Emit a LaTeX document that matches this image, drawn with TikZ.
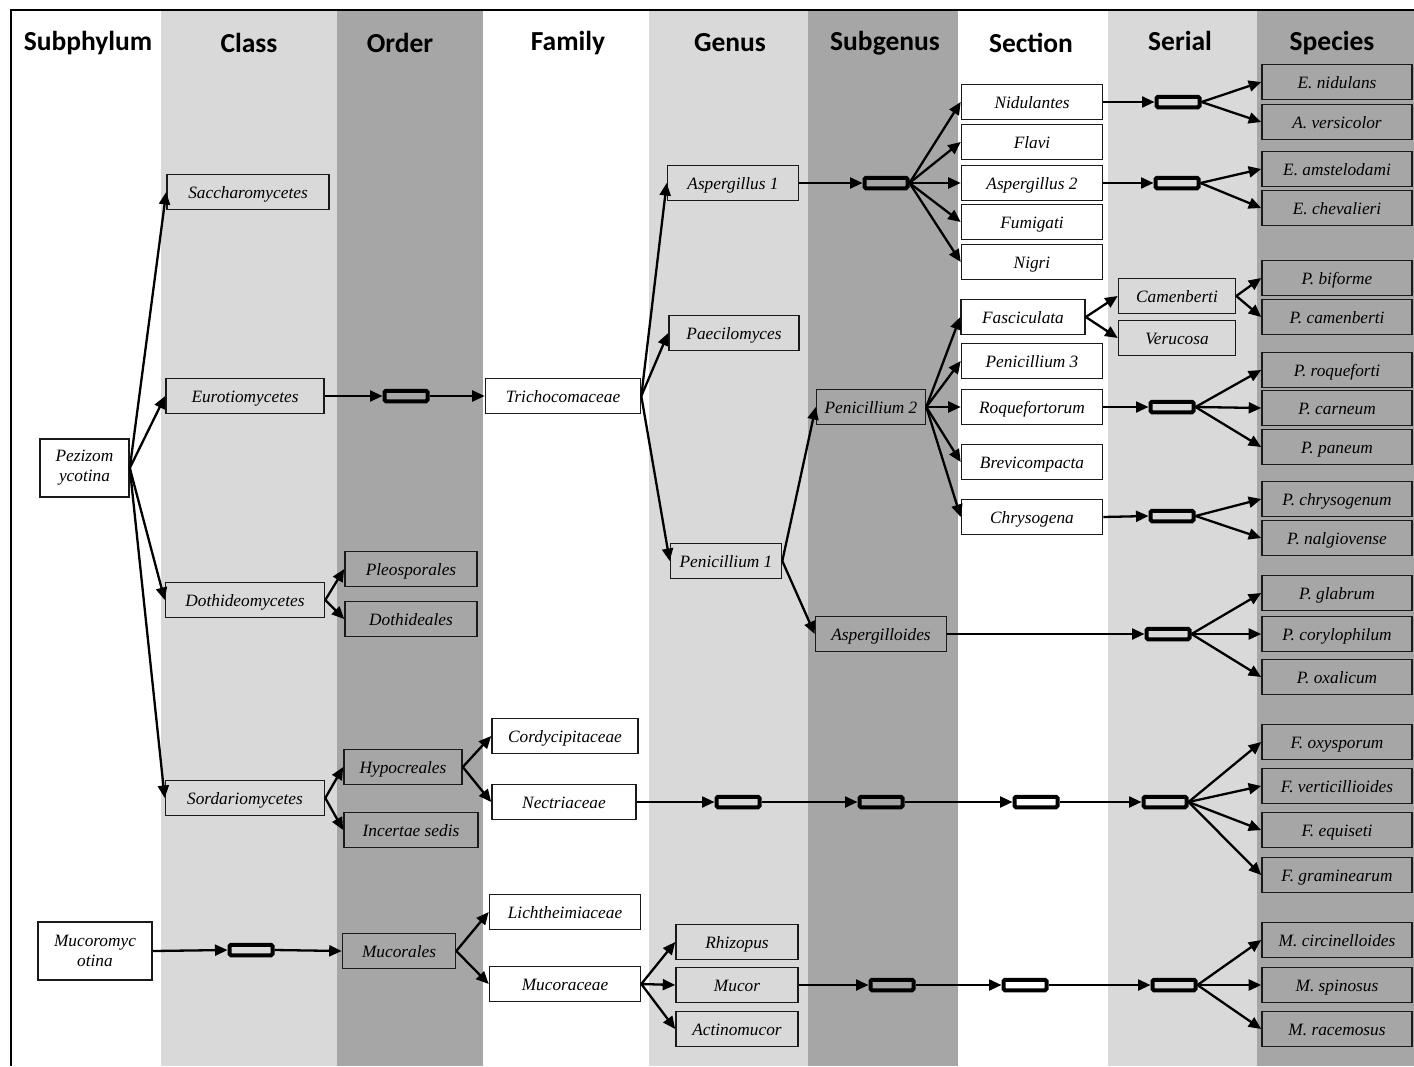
\documentclass[tikz,border=0pt]{standalone}
\usepackage{fontspec}
\setmainfont{Liberation Serif}
\newfontfamily\hdrfont{Carlito}
\usetikzlibrary{arrows.meta}
\definecolor{lgray}{HTML}{D9D9D9}
\definecolor{dgray}{HTML}{A6A6A6}
\definecolor{bline}{HTML}{1A1A1A}
\begin{document}
\begin{tikzpicture}[x=1pt,y=-1pt,
  tbox/.style={draw=bline, line width=1.6pt, inner sep=0pt, font=\fontsize{17.3}{20}\selectfont\itshape, text height=13pt, text depth=1pt, minimum height=35pt},
  tbox2/.style={draw=bline, line width=1.6pt, inner sep=0pt, font=\fontsize{17.3}{20}\selectfont\itshape, align=center, minimum height=58pt},
  spbox/.style={tbox, minimum width=150pt},
  secbox/.style={tbox, minimum width=141pt},
  lbox/.style={draw=black, line width=4pt, rounded corners=1.5pt, minimum width=43pt, minimum height=10.5pt, inner sep=0pt},
  hdr/.style={font=\hdrfont\bfseries\fontsize{27.5}{30}\selectfont},
  arr/.style={line width=2.3pt, -{Triangle[length=12.5pt,width=11pt]}},
]
\useasboundingbox (0,0) rectangle (1414,1066);
% bands
\fill[lgray] (161,11) rectangle (337,1066);
\fill[dgray] (337,11) rectangle (483,1066);
\fill[lgray] (649,11) rectangle (808,1066);
\fill[dgray] (808,11) rectangle (958,1066);
\fill[lgray] (1108,11) rectangle (1257,1066);
\fill[dgray] (1257,11) rectangle (1414,1066);
\draw[line width=2pt] (11,1066) -- (11,10) -- (1414,10);
% headers
\node[hdr] (h1) at (88,43) {Subphylum};
\node[hdr] (h2) at (249,43) {Class};
\node[hdr] (h3) at (400,43) {Order};
\node[hdr] (h4) at (568,43) {Family};
\node[hdr] (h5) at (730,43) {Genus};
\node[hdr] (h6) at (885,43) {Subgenus};
\node[hdr] (h7) at (1031,43) {Section};
\node[hdr] (h8) at (1180,41) {Serial};
\node[hdr] (h9) at (1332,43) {Species};
% subphylum
\node[tbox2, minimum width=89pt] (pez) at (84.5,468) {Pezizom\\ycotina};
\node[tbox2, minimum width=114pt] (muc) at (95,951) {Mucoromyc\\otina};
% class
\node[tbox, minimum width=162pt] (sac) at (248,192) {Saccharomycetes};
\node[tbox, minimum width=158pt] (eur) at (245,396) {Eurotiomycetes};
\node[tbox, minimum width=159pt] (dot) at (245,600) {Dothideomycetes};
\node[tbox, minimum width=159pt] (sor) at (245,798) {Sordariomycetes};
\node[lbox] (Lm1) at (251,950) {};
% order
\node[lbox] (Le1) at (406,396) {};
\node[tbox, minimum width=132pt] (ple) at (411,569) {Pleosporales};
\node[tbox, minimum width=132pt] (dth) at (411,619) {Dothideales};
\node[tbox, minimum width=118pt] (hyp) at (403,767) {Hypocreales};
\node[tbox, minimum width=134pt] (inc) at (411,830) {Incertae sedis};
\node[tbox, minimum width=113pt] (mcr) at (399,951) {Mucorales};
% family
\node[tbox, minimum width=155pt] (tri) at (563,396) {Trichocomaceae};
\node[tbox, minimum width=146pt] (cor) at (565,736) {Cordycipitaceae};
\node[tbox, minimum width=144pt] (nec) at (564,802) {Nectriaceae};
\node[tbox, minimum width=151pt] (lic) at (565,912) {Lichtheimiaceae};
\node[tbox, minimum width=151pt] (mce) at (565,984) {Mucoraceae};
% genus
\node[tbox, minimum width=131pt] (as1) at (733,183) {Aspergillus 1};
\node[tbox, minimum width=130pt] (pae) at (734,333) {Paecilomyces};
\node[tbox, minimum width=111pt] (pe1) at (726,561) {Penicillium 1};
\node[tbox, minimum width=122pt] (rhi) at (737,942) {Rhizopus};
\node[tbox, minimum width=122pt] (mur) at (737,985) {Mucor};
\node[tbox, minimum width=122pt] (act) at (737,1029) {Actinomucor};
\node[lbox] (Ln1) at (738,802) {};
% subgenus
\node[lbox] (La1) at (886,183) {};
\node[tbox, minimum width=109pt] (pe2) at (871,407) {Penicillium 2};
\node[tbox, minimum width=131pt] (asp) at (881,634) {Aspergilloides};
\node[lbox] (Ln2) at (881,802) {};
\node[lbox] (Lu1) at (892,985) {};
% section
\node[secbox] (nid) at (1032,102) {Nidulantes};
\node[secbox] (fla) at (1032,142) {Flavi};
\node[secbox] (as2) at (1032,183) {Aspergillus 2};
\node[secbox] (fum) at (1032,222) {Fumigati};
\node[secbox] (nig) at (1032,262) {Nigri};
\node[tbox, minimum width=124pt] (fas) at (1023,317) {Fasciculata};
\node[secbox] (pe3) at (1032,361) {Penicillium 3};
\node[secbox] (roq) at (1032,407) {Roquefortorum};
\node[secbox] (bre) at (1032,462) {Brevicompacta};
\node[secbox] (chr) at (1032,517) {Chrysogena};
\node[lbox] (Ln3) at (1036,802) {};
\node[lbox] (Lu2) at (1025,985) {};
% serial
\node[lbox] (Lnid) at (1178,102) {};
\node[lbox] (Las2) at (1177,183) {};
\node[tbox, minimum width=117pt] (cam) at (1177,296) {Camenberti};
\node[tbox, minimum width=117pt] (ver) at (1177,338) {Verucosa};
\node[lbox] (Lroq) at (1172,407) {};
\node[lbox] (Lchr) at (1172,516) {};
\node[lbox] (Lasp) at (1168,634) {};
\node[lbox] (Ln4) at (1165,802) {};
\node[lbox] (Lu3) at (1174,985) {};
% species
\node[spbox] (s1) at (1337,82) {E. nidulans};
\node[spbox] (s2) at (1337,122) {A. versicolor};
\node[spbox] (s3) at (1337,169) {E. amstelodami};
\node[spbox] (s4) at (1337,208) {E. chevalieri};
\node[spbox] (s5) at (1337,278) {P. biforme};
\node[spbox] (s6) at (1337,317) {P. camenberti};
\node[spbox] (s7) at (1337,370) {P. roqueforti};
\node[spbox] (s8) at (1337,408) {P. carneum};
\node[spbox] (s9) at (1337,447) {P. paneum};
\node[spbox] (s10) at (1337,499) {P. chrysogenum};
\node[spbox] (s11) at (1337,538) {P. nalgiovense};
\node[spbox] (s12) at (1337,593) {P. glabrum};
\node[spbox] (s13) at (1337,634) {P. corylophilum};
\node[spbox] (s14) at (1337,677) {P. oxalicum};
\node[spbox] (s15) at (1337,742) {F. oxysporum};
\node[spbox] (s16) at (1337,786) {F. verticillioides};
\node[spbox] (s17) at (1337,830) {F. equiseti};
\node[spbox] (s18) at (1337,875) {F. graminearum};
\node[spbox] (s19) at (1337,940) {M. circinelloides};
\node[spbox] (s20) at (1337,985) {M. spinosus};
\node[spbox] (s21) at (1337,1029) {M. racemosus};
% connectors
\foreach \t in {sac,eur,dot,sor} \draw[arr] (pez.east) -- (\t.west);
\draw[arr] (eur.east) -- (Le1.west);
\draw[arr] (Le1.east) -- (tri.west);
\foreach \t in {ple,dth} \draw[arr] (dot.east) -- (\t.west);
\foreach \t in {hyp,inc} \draw[arr] (sor.east) -- (\t.west);
\foreach \t in {cor,nec} \draw[arr] (hyp.east) -- (\t.west);
\draw[arr] (muc.east) -- (Lm1.west);
\draw[arr] (Lm1.east) -- (mcr.west);
\foreach \t in {lic,mce} \draw[arr] (mcr.east) -- (\t.west);
\foreach \t in {rhi,mur,act} \draw[arr] (mce.east) -- (\t.west);
\foreach \t in {as1,pae,pe1} \draw[arr] (tri.east) -- (\t.west);
\draw[arr] (as1.east) -- (La1.west);
\foreach \t in {nid,fla,as2,fum,nig} \draw[arr] (La1.east) -- (\t.west);
\foreach \t in {pe2,asp} \draw[arr] (pe1.east) -- (\t.west);
\foreach \t in {fas,pe3,roq,bre,chr} \draw[arr] (pe2.east) -- (\t.west);
\foreach \t in {cam,ver} \draw[arr] (fas.east) -- (\t.west);
\foreach \t in {s5,s6} \draw[arr] (cam.east) -- (\t.west);
\draw[arr] (nid.east) -- (Lnid.west);
\foreach \t in {s1,s2} \draw[arr] (Lnid.east) -- (\t.west);
\draw[arr] (as2.east) -- (Las2.west);
\foreach \t in {s3,s4} \draw[arr] (Las2.east) -- (\t.west);
\draw[arr] (roq.east) -- (Lroq.west);
\foreach \t in {s7,s8,s9} \draw[arr] (Lroq.east) -- (\t.west);
\draw[arr] (chr.east) -- (Lchr.west);
\foreach \t in {s10,s11} \draw[arr] (Lchr.east) -- (\t.west);
\draw[arr] (asp.east) -- (Lasp.west);
\foreach \t in {s12,s13,s14} \draw[arr] (Lasp.east) -- (\t.west);
\draw[arr] (nec.east) -- (Ln1.west);
\draw[arr] (Ln1.east) -- (Ln2.west);
\draw[arr] (Ln2.east) -- (Ln3.west);
\draw[arr] (Ln3.east) -- (Ln4.west);
\foreach \t in {s15,s16,s17,s18} \draw[arr] (Ln4.east) -- (\t.west);
\draw[arr] (mur.east) -- (Lu1.west);
\draw[arr] (Lu1.east) -- (Lu2.west);
\draw[arr] (Lu2.east) -- (Lu3.west);
\foreach \t in {s19,s20,s21} \draw[arr] (Lu3.east) -- (\t.west);
\end{tikzpicture}
\end{document}
